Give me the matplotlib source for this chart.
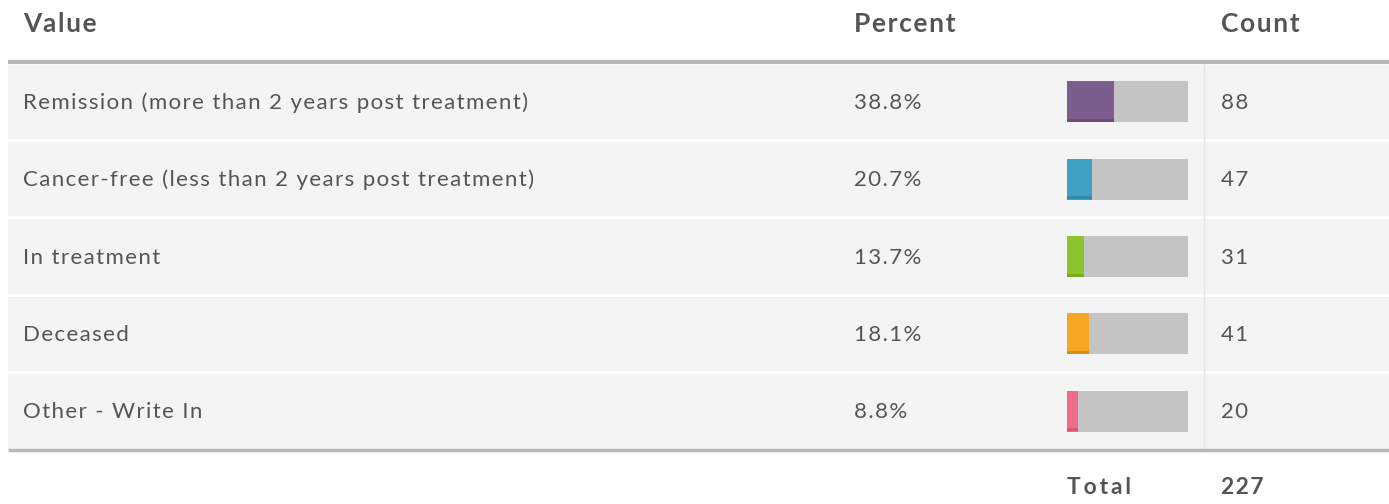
import matplotlib
matplotlib.use('Agg')
import matplotlib.pyplot as plt

# table data
answers = [
    'Remission (more than 2 years post treatment)',
    'Cancer-free (less than 2 years post treatment)',
    'In treatment',
    'Deceased',
    'Other - Write In',
]
percents = [38.8, 20.7, 13.7, 18.1, 8.8]
counts = [88, 47, 31, 41, 20]
total = 227
headers = ['Value', 'Percent', 'Count']
bar_colors = ['#7b5e8d', '#3ea2c3', '#8dc42c', '#f5a623', '#f06a8a']
bar_edges = ['#6a4f7b', '#2f8cab', '#78ab22', '#d98f17', '#d95574']

W, H = 1389, 504
TXT = '#555555'
plt.rcParams['font.family'] = ['Lato', 'DejaVu Sans']


def spaced(s, sep='\u200a'):
    # fake letter spacing with hair spaces
    return sep.join(s)


fig = plt.figure(figsize=(W / 100, H / 100), dpi=100)
ax = fig.add_axes([0, 0, 1, 1])
ax.set_xlim(0, W)
ax.set_ylim(H, 0)
ax.axis('off')

top, pitch = 63, 77.4
n = len(answers)

# rows
for i in range(n):
    y0 = top + i * pitch
    ax.add_patch(plt.Rectangle((8, y0 + 1.5), W - 8, pitch - 3, color='#f4f4f4', lw=0))
    yc = y0 + pitch / 2 + 1
    ax.text(23, yc, spaced(answers[i]), fontsize=16, color=TXT, va='center')
    ax.text(854, yc, spaced(f'{percents[i]:.1f}%'), fontsize=16, color=TXT, va='center')
    ax.text(1221, yc, spaced(str(counts[i])), fontsize=16, color=TXT, va='center')
# column separator
ax.plot([1203.5, 1203.5], [top, top + n * pitch], color='#e6e6e6', lw=1)

# header / footer rules
ax.plot([8, W], [61.5, 61.5], color='#b9b9b9', lw=3, solid_capstyle='butt')
ax.plot([8, W], [top + n * pitch, top + n * pitch], color='#b9b9b9', lw=2.5, solid_capstyle='butt')

# headers
for x, h in zip([23, 854, 1221], headers):
    ax.text(x, 24, spaced(h), fontsize=19, fontweight='bold', color=TXT, va='center')

ax.text(1067, 487, spaced('Total', '\u2009'), fontsize=16.5, fontweight='bold', color=TXT, va='center')
ax.text(1221, 487, spaced(str(total)), fontsize=16.5, fontweight='bold', color=TXT, va='center')

# bars
bx0, bx1 = 1067, 1188
bax = fig.add_axes([bx0 / W, 1 - (top + n * pitch) / H, (bx1 - bx0) / W, n * pitch / H])
bax.set_xlim(0, 100)
bax.set_ylim(n - 0.5, -0.5)
bax.axis('off')
ys = list(range(n))
bax.barh(ys, [100] * n, height=0.53, color='#c4c4c4', lw=0)
bax.barh(ys, percents, height=0.53, color=bar_colors, lw=0)
bax.barh([y + 0.24 for y in ys], percents, height=0.04, color=bar_edges, lw=0)

fig.savefig('out.png', dpi=100)
